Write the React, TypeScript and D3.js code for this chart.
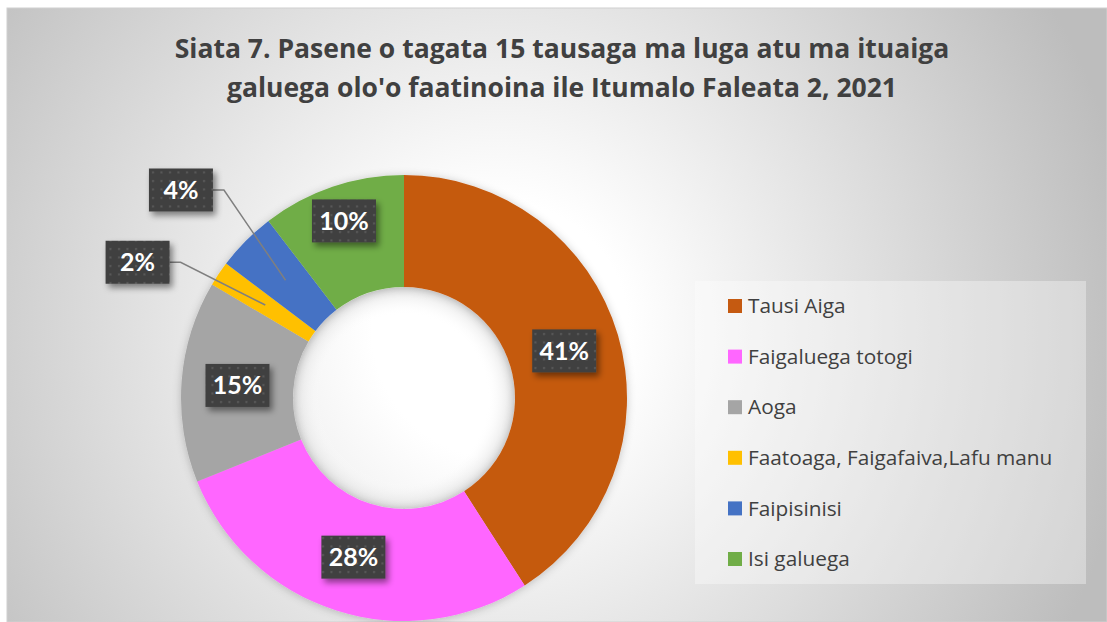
import React from 'react';
import * as d3 from 'd3';

const categories = ['Tausi Aiga', 'Faigaluega totogi', 'Aoga', 'Faatoaga, Faigafaiva,Lafu manu', 'Faipisinisi', 'Isi galuega'];
const values = [40.9, 28.0, 14.6, 1.8, 4.3, 10.4];
const labelTexts = ['41%', '28%', '15%', '2%', '4%', '10%'];
const colors = ['#c55a11', '#ff66ff', '#a5a5a5', '#ffc000', '#4472c4', '#70ad47'];
const titleLines = ['Siata 7. Pasene o tagata 15 tausaga ma luga atu ma ituaiga', "galuega olo'o faatinoina ile Itumalo Faleata 2, 2021"];
// label placement (radius from centre, optional angle in degrees)
const labelRadius = [167, 167, 167, 299, 305, 187];
const labelAngle: (number | null)[] = [null, null, null, 297, 313, null];
const hasLeader = [false, false, false, true, true, false];

const W = 1107, H = 622;
const cx = 404, cy = 398, rOuter = 223, rInner = 111;
const FONT = '"Open Sans", Lato, sans-serif';
const LABEL_FONT = 'Lato, "Open Sans", sans-serif';

export default function App() {
  const pie = d3.pie<number>().sort(null).value(d => d);
  const arcs = pie(values);
  const arc = d3.arc<d3.PieArcDatum<number>>().innerRadius(rInner).outerRadius(rOuter);
  const mid = d3.arc<d3.PieArcDatum<number>>().innerRadius((rInner + rOuter) / 2).outerRadius((rInner + rOuter) / 2);

  const boxW = 64, boxH = 43;
  const legendY = d3.scalePoint<string>().domain(categories).range([306, 559]);

  return (
    <svg width={W} height={H} style={{ position: 'absolute', left: 0, top: 0 }}>
      <defs>
        <radialGradient id="bg" gradientUnits="userSpaceOnUse" cx={500} cy={330} r={640}>
          <stop offset="0" stopColor="#ffffff" />
          <stop offset="0.2" stopColor="#ffffff" />
          <stop offset="1" stopColor="#bdbdbd" />
        </radialGradient>
        <radialGradient id="hole" gradientUnits="userSpaceOnUse" cx={0} cy={0} r={rInner}>
          <stop offset="0.75" stopColor="#ffffff" stopOpacity={0} />
          <stop offset="1" stopColor="#d8d8d8" stopOpacity={0.8} />
        </radialGradient>
        <pattern id="dots" width="8.5" height="8.5" patternUnits="userSpaceOnUse">
          <rect width="8.5" height="8.5" fill="#404040" />
          <rect x="3" y="3" width="2" height="2" fill="#5c5c5c" />
        </pattern>
        <filter id="boxShadow" x="-30%" y="-30%" width="160%" height="160%">
          <feDropShadow dx="3" dy="4" stdDeviation="3" floodColor="#000" floodOpacity="0.45" />
        </filter>
        <filter id="ringShadow" x="-20%" y="-20%" width="140%" height="140%">
          <feDropShadow dx="0" dy="1" stdDeviation="4" floodColor="#000" floodOpacity="0.22" />
        </filter>
      </defs>
      <rect x={0} y={0} width={W} height={H} fill="#ffffff" />
      <rect x={7} y={8} width={W - 7} height={H - 8} fill="url(#bg)" stroke="#d0d0d0" strokeWidth={1} />

      <g fontFamily={FONT} fontWeight={700} fontSize={26.5} fill="#404040" textAnchor="middle">
        {titleLines.map((t, i) => (
          <text key={i} x={562} y={58 + i * 39}>{t}</text>
        ))}
      </g>

      <g transform={`translate(${cx},${cy})`}>
        <circle r={rInner} fill="url(#hole)" />
        <g filter="url(#ringShadow)">
          {arcs.map((a, i) => (
            <path key={i} d={arc(a) || ''} fill={colors[i]} />
          ))}
        </g>
        {arcs.map((a, i) => {
          const [mx, my] = mid.centroid(a);
          const ang = labelAngle[i] !== null ? (labelAngle[i] as number) * Math.PI / 180 : (a.startAngle + a.endAngle) / 2;
          const lx = labelRadius[i] * Math.sin(ang);
          const ly = -labelRadius[i] * Math.cos(ang);
          return (
            <g key={i}>
              {hasLeader[i] && (
                <polyline
                  points={`${lx + boxW / 2},${ly} ${lx + boxW / 2 + 11},${ly} ${mx},${my}`}
                  fill="none" stroke="#7f7f7f" strokeWidth={1.5} />
              )}
              <rect x={lx - boxW / 2} y={ly - boxH / 2} width={boxW} height={boxH} fill="url(#dots)" filter="url(#boxShadow)" />
              <text x={lx} y={ly} dy="0.36em" textAnchor="middle" fontFamily={LABEL_FONT} fontWeight={700} fontSize={25} fill="#ffffff">
                {labelTexts[i]}
              </text>
            </g>
          );
        })}
      </g>

      <rect x={695} y={281} width={391} height={303} fill="#ffffff" fillOpacity={0.35} />
      {categories.map((c, i) => {
        const y = legendY(c) as number;
        return (
          <g key={c}>
            <rect x={728} y={y - 7} width={14} height={14} fill={colors[i]} />
            <text x={748} y={y} dy="0.35em" fontFamily={FONT} fontSize={20.8} fill="#404040">{c}</text>
          </g>
        );
      })}
    </svg>
  );
}
